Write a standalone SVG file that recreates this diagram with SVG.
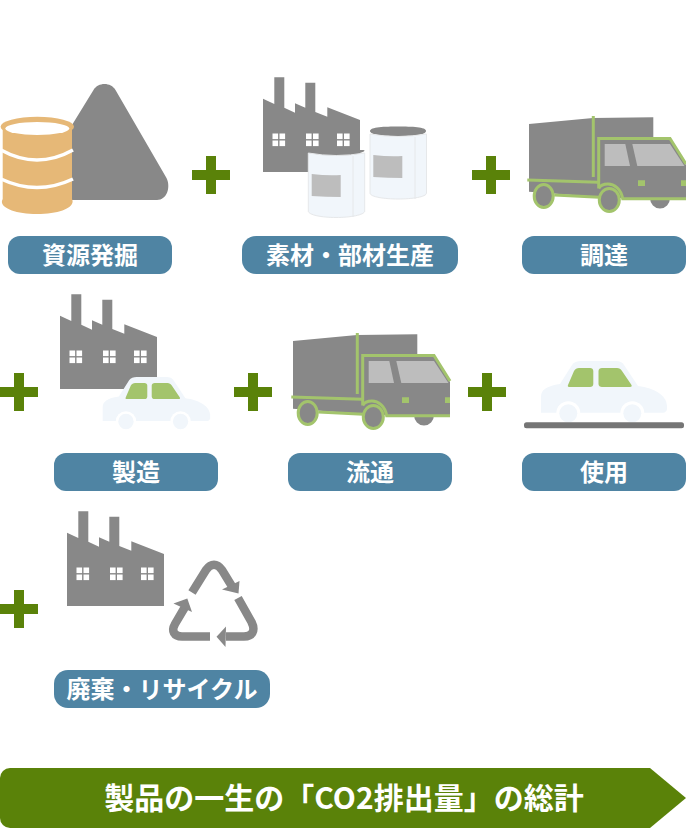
<svg xmlns="http://www.w3.org/2000/svg" width="686" height="828" viewBox="0 0 686 828">
<style>
.lb{fill:#4f84a3}
.t{font-family:"Noto Sans CJK JP","Noto Sans",sans-serif;font-weight:700;font-size:24px;fill:#fff;text-anchor:middle}
.g{fill:#888}
.w{fill:#fff}
.ln{fill:none;stroke:#a3c46c;stroke-width:3}
.can{fill:#f1f6fb;stroke:#e6e8ea;stroke-width:1}
.gr{fill:#a3c46c}
.lt{fill:#bdbdbd}
.rc{fill:none;stroke:#888;stroke-width:8.5;stroke-linejoin:round}
</style>
<defs>
<path id="plus" d="M-5-19H5V-5H19V5H5V19H-5V5H-19V-5H-5Z" fill="#5a8209"/>
<g id="win"><rect width="5.6" height="5.6"/><rect x="7" width="5.6" height="5.6"/><rect y="7" width="5.6" height="5.6"/><rect x="7" y="7" width="5.6" height="5.6"/></g>
<g id="factory">
<path class="g" d="M263 172V98.7L274.3 104V77.3H284.3V107.7L295 112.7V103.3L305.3 107.7V82.7H315.3V112L327.3 116.7V107.3L360 120V172Z"/>
<g class="w"><use href="#win" x="272.5" y="133.5"/><use href="#win" x="306" y="133.5"/><use href="#win" x="337" y="133.5"/></g>
</g>
<g id="truck">
<path class="g" d="M529 124L593 118L653.3 117.3V138H670L686 165V198H670A10 10.500 0 0 1 650 198H622L599 197L529 191.7Z"/>
<path class="lt" d="M604.7 144H625.3L630 166H604.7Z"/>
<path class="lt" d="M632.3 144H670L684.5 166H637.3Z"/>
<path class="gr" d="M638 180.3H645V186H638ZM681 180.3H686V186H681Z"/>
<path class="ln" d="M593.3 116V177M527.3 180L598.7 182.3M554.3 195L599.3 197.3"/>
<path class="ln" d="M598.7 188.5V138.5H670L686 164M686 198.8H622.7C621 189 614 184 608 184C603 184 600 186 598.7 188.5"/>
<ellipse class="g" cx="543.7" cy="196" rx="9.5" ry="11.5" style="stroke:#a3c46c;stroke-width:3"/>
<ellipse class="g" cx="609.3" cy="200" rx="10" ry="11.5" style="stroke:#a3c46c;stroke-width:3"/>
</g>
<g id="car">
<path d="M541 412.7V397C541 390 546 386 560 384L572 365C574 362 577 361 581 361H616C620 361 622 362 624 365L638 386C655 388 667 396 667 406V409C667 411 665 412.7 663 412.7Z" fill="#f1f6fb"/>
<circle class="w" cx="568.3" cy="413.3" r="12"/><circle class="w" cx="632.3" cy="413.3" r="12"/>
<circle cx="568.3" cy="413.3" r="9" fill="#f1f6fb"/><circle cx="632.3" cy="413.3" r="9" fill="#f1f6fb"/>
<path class="gr" d="M574 371C575 369 577 368 579 368H590C592 368 593.3 369 593.3 371V384C593.3 386 592 387 590 387H569C568 387 567.5 386 568 385Z"/>
<path class="gr" d="M598.5 371C598.5 369 600 368 602 368H617C619 368 621 369 622 371L631.5 385C632 386 631.5 387 630 387H602C600 387 598.5 386 598.5 384Z"/>
</g>
</defs>
<g id="connectors">
<use href="#plus" x="211" y="175"/><use href="#plus" x="491" y="175"/>
<use href="#plus" x="19" y="392"/><use href="#plus" x="253" y="392"/><use href="#plus" x="487" y="392"/>
<use href="#plus" x="19" y="609"/>
</g>
<g id="node-shigen">
<path class="g" d="M72 200V125L93.500 90C98 82 111 82 115.500 90L166.500 178C171 187 167 200 157 200Z"/>
<path d="M2.700 126H72V199C76 207 60 214 37 214C14 214-2 207 2.700 199Z" fill="#e6b877"/>
<ellipse cx="37.300" cy="126.700" rx="36.700" ry="10" fill="#e6b877"/>
<ellipse cx="37.300" cy="128.500" rx="32" ry="6.500" class="w"/>
<path d="M1 150Q37 170 73 150M1 179Q37 196 73 179" fill="none" stroke="#fff" stroke-width="3.500"/>
<rect class="lb" x="8" y="236" width="164" height="38" rx="12"/>
<text class="t" x="90" y="263.500">資源発掘</text>
</g>
<g id="node-sozai">
<use href="#factory"/>
<path class="g" d="M370 131C370 127 385 126.500 398 126.500C412 126.500 426 127 426 131C426 135 412 136 398 136C385 136 370 135 370 131Z"/>
<path class="can" d="M370 134Q398 139 426.500 134V193C426.500 197 412 199 398 199C385 199 370 197 370 193Z"/>
<path d="M415 137V199" stroke="#e6e8ea" fill="none"/>
<path class="lt" d="M373.300 155Q390 157 402.300 156V178Q388 178 373.300 177Z"/>
<path class="g" d="M320 150H360C363 150 364.500 150 364.500 150.500C364.500 153 350 155 336 155C325 155 320 152 320 150Z"/>
<path class="can" d="M308.300 153Q336 158 364.700 153V211C364.700 215 350 217.500 336 217.500C322 217.500 308.300 215 308.300 211Z"/>
<path d="M353 156V217" stroke="#e6e8ea" fill="none"/>
<path class="lt" d="M311.700 174Q328 176 340.700 175V197Q326 197 311.700 196Z"/>
<rect class="lb" x="242" y="236" width="216" height="38" rx="14"/>
<text class="t" x="350" y="263.500">素材・部材生産</text>
</g>
<g id="node-chotatsu">
<use href="#truck"/>
<rect class="lb" x="522" y="236" width="164" height="38" rx="12"/>
<text class="t" x="604" y="263.500">調達</text>
</g>
<g id="node-seizo">
<use href="#factory" x="-203" y="217"/>
<use href="#car" transform="translate(-358.800 69) scale(.853)"/>
<rect class="lb" x="54" y="453" width="164" height="38" rx="12"/>
<text class="t" x="136" y="480.500">製造</text>
</g>
<g id="node-ryutsu">
<use href="#truck" x="-236" y="217"/>
<rect class="lb" x="288" y="453" width="164" height="38" rx="12"/>
<text class="t" x="370" y="480.500">流通</text>
</g>
<g id="node-shiyo">
<use href="#car"/>
<rect x="524" y="422.300" width="160" height="6" rx="2.500" fill="#757575"/>
<rect class="lb" x="522" y="453" width="164" height="38" rx="12"/>
<text class="t" x="604" y="480.500">使用</text>
</g>
<g id="node-haiki">
<use href="#factory" x="-196" y="434"/>
<path class="rc" d="M192 592.500L206 570C211 563 217 563 222 570L233 588"/>
<path class="g" d="M239.500 581L238.500 593.500L222 589.500Z"/>
<path class="rc" d="M238 598L251.500 622C256 631 252 636.500 244 636.500H226"/>
<path class="g" d="M226 626.500L216.500 636.700L225.500 647Z"/>
<path class="rc" d="M210 636.500H182C174 636.500 171 631 175 624L185 607"/>
<path class="g" d="M192 612L187.300 598.500L173.500 603.500Z"/>
<rect class="lb" x="54" y="670" width="216" height="38" rx="14"/>
<text class="t" x="162" y="697.500">廃棄・リサイクル</text>
</g>
<g id="node-total">
<path d="M10 768H650L686 798L650 828H10A10 10 0 0 1 0 818V778A10 10 0 0 1 10 768Z" fill="#5a8209"/>
<text class="t" x="344" y="809" style="font-size:30px">製品の一生の「CO2排出量」の総計</text>
</g>
</svg>
